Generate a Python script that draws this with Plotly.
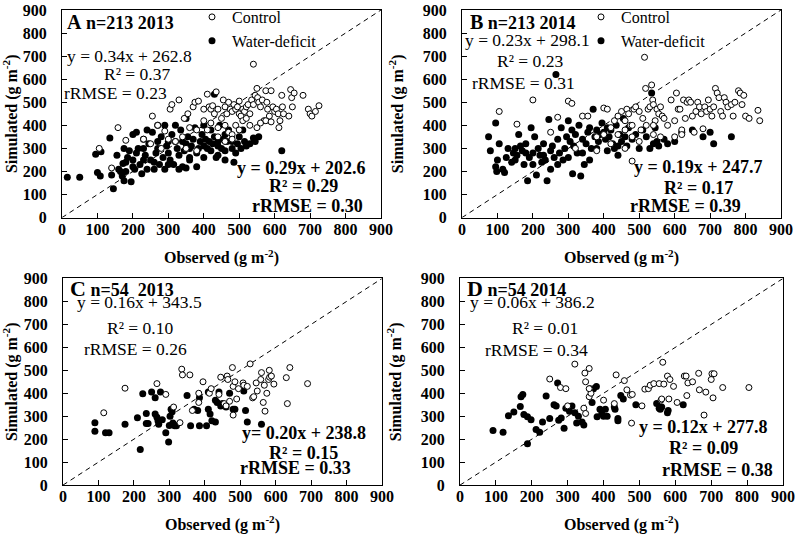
import plotly.graph_objects as go

# ---------------- data (observed, simulated) in g m-2 ----------------
A_CONTROL = [(105,300),(140,215),(158,390),(180,335),(255,440),(270,400),(290,375),(305,470),(310,490),
    (330,510),(345,430),(355,450),(370,480),(375,500),(385,505),(400,470),(410,535),(415,480),(420,470),
    (425,485),(430,450),(435,545),(440,470),(450,430),(455,510),(460,480),(465,450),(470,500),(475,470),
    (480,460),(485,490),(490,470),(495,480),(500,505),(500,450),(505,440),(510,470),(515,460),(520,480),
    (525,490),(530,450),(535,510),(540,665),(540,490),(545,530),(550,560),(552,520),(555,500),(560,480),
    (565,510),(570,420),(575,550),(578,500),(580,470),(585,440),(590,550),(595,480),(600,460),(605,470),
    (610,450),(612,390),(615,420),(620,530),(622,480),(625,450),(640,440),(645,555),(648,520),(650,480),
    (655,540),(680,530),(695,470),(700,450),(705,440),(715,460),(725,485),(360,390),(380,380),(400,420),
    (410,380),(420,410),(440,390),(460,400),(470,370),(480,360),(490,400),(500,380),(510,420),(520,430),
    (530,400),(550,390),(560,410),(575,420),(590,415),(300,340),(320,330),(340,350),(280,300),(250,320),
    (230,340),(350,300),(380,290),(440,350),(460,330),(480,340)]
A_DEFICIT = [(15,175),(50,175),(95,275),(100,195),(108,180),(110,285),(135,345),(140,185),(145,125),
    (155,270),(160,210),(165,200),(170,180),(172,235),(175,300),(175,160),(180,240),(185,260),(190,290),
    (195,155),(200,360),(200,250),(205,210),(210,280),(215,300),(220,230),(225,190),(230,340),(235,270),
    (240,210),(245,320),(250,250),(255,370),(260,210),(265,280),(270,300),(275,230),(280,350),(285,260),
    (290,210),(295,310),(300,280),(305,250),(310,360),(315,230),(320,330),(325,300),(330,270),(335,380),
    (340,220),(345,290),(350,320),(355,350),(360,260),(365,310),(370,340),(375,390),(380,280),(385,300),
    (390,330),(395,360),(400,310),(405,340),(410,300),(415,330),(420,380),(425,320),(430,535),(430,350),
    (435,260),(440,310),(445,400),(450,300),(455,340),(460,290),(465,330),(470,380),(480,300),(485,240),
    (490,280),(495,320),(500,350),(505,300),(510,380),(515,330),(520,310),(530,320),(540,345),(545,330),
    (555,350),(620,290),(270,400),(290,400),(320,400),(350,430),(210,370),(240,380),(180,200),(200,220),
    (230,250),(260,240),(300,230),(330,210),(350,215),(360,250),(380,220),(400,260),(440,270),(460,250),
    (230,300),(270,330),(300,330),(340,330),(360,300),(400,400),(420,290),(440,330),(460,360),(480,330)]

B_CONTROL = [(105,460),(155,405),(200,510),(250,370),(270,435),(300,505),(310,495),(320,300),(340,440),
    (355,440),(380,290),(400,475),(410,470),(420,390),(430,420),(440,440),(450,460),(460,420),(465,470),
    (470,450),(475,400),(480,245),(485,470),(490,480),(500,460),(505,380),(510,430),(515,695),(518,560),
    (520,400),(525,470),(530,480),(535,575),(538,510),(540,490),(545,420),(550,470),(555,450),(560,480),
    (565,440),(570,430),(580,400),(590,510),(600,420),(605,540),(610,470),(615,470),(620,380),(625,510),
    (630,430),(635,500),(640,510),(645,500),(650,440),(655,370),(660,460),(665,500),(670,480),(675,450),
    (680,385),(685,480),(690,460),(695,510),(700,470),(705,440),(710,480),(715,560),(720,540),(725,520),
    (730,460),(735,440),(740,520),(745,500),(750,480),(760,490),(765,440),(770,500),(780,550),(785,540),
    (790,490),(795,530),(800,440),(810,430),(835,465),(840,420),(440,360),(460,380),(480,350),(500,330),
    (540,360),(560,350),(460,300),(600,350),(620,360),(480,400),(540,400),(400,360),(380,350),(420,320)]
B_DEFICIT = [(75,350),(80,290),(95,410),(95,220),(98,200),(100,250),(105,320),(115,210),(120,195),
    (125,260),(130,300),(140,240),(145,280),(150,250),(155,270),(160,360),(165,310),(170,290),(175,230),
    (180,320),(185,160),(190,260),(195,390),(200,280),(205,350),(210,185),(215,300),(220,270),(225,240),
    (230,320),(235,250),(240,160),(245,425),(250,290),(255,310),(260,260),(265,620),(270,340),(275,280),
    (280,390),(285,250),(290,300),(295,350),(300,420),(305,330),(310,380),(312,190),(315,310),(320,360),
    (325,280),(330,400),(335,180),(340,340),(345,230),(350,320),(355,370),(360,390),(365,300),(370,470),
    (375,350),(380,380),(385,330),(390,360),(395,410),(400,370),(405,340),(410,390),(415,350),(420,380),
    (425,320),(430,300),(435,400),(440,270),(445,360),(450,330),(455,430),(460,350),(465,310),(470,390),
    (480,340),(490,360),(500,300),(510,380),(520,350),(530,300),(535,540),(540,320),(545,390),(550,330),
    (555,310),(570,340),(580,320),(600,330),(620,370),(680,350),(700,370),(710,320),(760,350),(650,380),
    (150,300),(200,230),(250,210),(270,230),(300,260),(340,280),(360,250),(380,300),(410,290),(440,310),
    (230,270),(180,280)]

C_CONTROL = [(115,315),(175,422),(265,442),(290,395),(312,340),(330,272),(335,505),(337,480),(358,480),
    (365,325),(383,400),(383,360),(395,450),(413,400),(418,420),(440,395),(445,470),(455,355),(463,475),
    (465,460),(470,365),(478,512),(480,430),(480,305),(485,450),(490,375),(495,420),(508,445),(510,435),
    (528,528),(535,380),(538,385),(545,445),(548,410),(558,460),(560,490),(565,360),(568,435),(570,322),
    (575,400),(580,460),(582,500),(583,470),(588,475),(595,440),(630,468),(633,355),(640,512),(690,442),
    (520,430),(460,345)]
C_DEFICIT = [(90,272),(90,235),(120,228),(130,228),(175,265),(210,293),(218,155),(225,398),(235,268),
    (235,312),(240,268),(250,405),(260,380),(260,310),(265,295),(268,280),(270,265),(275,405),(280,285),
    (290,228),(298,188),(300,260),(302,300),(305,330),(308,320),(310,270),(315,258),(320,258),(350,390),
    (360,258),(370,330),(380,325),(385,258),(385,380),(405,258),(410,405),(410,330),(415,310),(420,280),
    (430,275),(430,370),(435,360),(440,405),(445,345),(450,355),(460,340),(470,400),(480,330),(485,330),
    (510,410),(515,325),(520,275),(560,265)]

D_CONTROL = [(250,462),(280,425),(295,420),(300,345),(320,527),(345,335),(348,488),(350,450),(350,312),
    (360,508),(360,385),(362,420),(365,400),(400,370),(430,355),(435,480),(458,455),(465,415),(475,392),
    (480,395),(478,270),(507,345),(515,418),(525,420),(530,435),(540,442),(555,442),(560,370),(562,375),
    (565,535),(568,440),(578,475),(582,375),(585,460),(595,430),(605,360),(625,475),(630,475),(632,390),
    (635,445),(648,450),(665,487),(667,415),(680,305),(685,405),(700,460),(702,485),(705,380),(708,485),
    (732,425),(805,425),(360,420)]
D_DEFICIT = [(92,238),(120,230),(135,302),(150,318),(168,342),(170,385),(175,395),(178,308),(188,180),
    (188,298),(198,285),(212,242),(222,230),(230,275),(240,388),(250,290),(262,350),(268,345),(272,445),
    (275,282),(282,292),(290,248),(295,335),(305,322),(312,345),(320,315),(325,270),(330,300),(340,275),
    (345,262),(368,360),(372,420),(380,430),(382,298),(390,330),(395,310),(400,300),(405,330),(410,300),
    (430,340),(432,330),(440,280),(440,290),(448,390),(455,375),(490,350),(548,355),(555,335),(558,330),
    (562,340),(578,315),(580,325),(622,350)]

PANEL_TITLES = {"A": ("A", "n=213 2013"), "B": ("B", "n=213 2014"),
                "C": ("C", "n=54  2013"), "D": ("D", "n=54 2014")}
CONTROL_STATS = {"A": ("y = 0.34x + 262.8", "R² = 0.37", "rRMSE = 0.23"),
                 "B": ("y = 0.23x + 298.1", "R² = 0.23", "rRMSE = 0.31"),
                 "C": ("y = 0.16x + 343.5", "R² = 0.10", "rRMSE = 0.26"),
                 "D": ("y = 0.06x + 386.2", "R² = 0.01", "rRMSE = 0.34")}
DEFICIT_STATS = {"A": ("y = 0.29x + 202.6", "R² = 0.29", "rRMSE = 0.30"),
                 "B": ("y = 0.19x + 247.7", "R² = 0.17", "rRMSE = 0.39"),
                 "C": ("y= 0.20x + 238.8", "R² = 0.15", "rRMSE = 0.33"),
                 "D": ("y = 0.12x + 277.8", "R² = 0.09", "rRMSE = 0.38")}
TICKS = list(range(0, 901, 100))

# ---------------- figure ----------------
W, H = 795, 534
FONT = "Liberation Serif"

def fx(px):
    return px / W

def fy(py):
    return 1 - py / H

domains = {
    "A": dict(x=[fx(62), fx(381)], y=[fy(217), fy(9)]),
    "B": dict(x=[fx(462), fx(781)], y=[fy(217), fy(9)]),
    "C": dict(x=[fx(63), fx(382)], y=[fy(485), fy(278)]),
    "D": dict(x=[fx(460), fx(783)], y=[fy(485), fy(278)]),
}
data = {"A": (A_CONTROL, A_DEFICIT), "B": (B_CONTROL, B_DEFICIT),
        "C": (C_CONTROL, C_DEFICIT), "D": (D_CONTROL, D_DEFICIT)}

# annotation anchor positions in data units
title_pos = {"A": (8, 848), "B": (17, 850), "C": (14, 857), "D": (14, 857)}
ctrl_pos = {"A": [(8, 701), (113, 623), (0, 541)],          # left-anchored
            "B": [(3, 770), (93, 679), (23, 584)],
            "C": [(34, 796), (118, 683), (54, 591)],
            "D": [(22, 796), (139, 683), (64, 587)]}
def_pos = {"A": [(863, 216), (784, 138), (855, 52)],        # right-anchored
           "B": [(855, 221), (770, 130), (793, 52)],
           "C": [(860, 226), (781, 139), (818, 74)],
           "D": [(864, 252), (780, 161), (878, 65)]}

fig = go.Figure()
annotations = []
axis_font = dict(family=FONT, size=16, color="black", weight="bold")

for i, key in enumerate(["A", "B", "C", "D"]):
    suffix = "" if i == 0 else str(i + 1)
    xr, yr = "x" + suffix, "y" + suffix
    ctrl, wd = data[key]
    legend_name = {"A": "legend", "B": "legend2"}.get(key)
    show = legend_name is not None
    fig.add_trace(go.Scatter(x=[0, 900], y=[0, 900], mode="lines", xaxis=xr, yaxis=yr,
                             line=dict(color="black", width=1, dash="5px,4px"),
                             showlegend=False, hoverinfo="skip"))
    fig.add_trace(go.Scatter(x=[p[0] for p in wd], y=[p[1] for p in wd], mode="markers",
                             xaxis=xr, yaxis=yr, name="Water-deficit",
                             marker=dict(symbol="circle", size=7, color="black",
                                         line=dict(width=0)),
                             showlegend=show, legend=legend_name or "legend", legendrank=2))
    fig.add_trace(go.Scatter(x=[p[0] for p in ctrl], y=[p[1] for p in ctrl], mode="markers",
                             xaxis=xr, yaxis=yr, name="Control",
                             marker=dict(symbol="circle", size=6, color="white",
                                         line=dict(width=1, color="black")),
                             showlegend=show, legend=legend_name or "legend", legendrank=1))

    common = dict(range=[0, 900], tickvals=TICKS, ticks="inside", ticklen=5, tickwidth=1,
                  tickcolor="black", showline=True, linecolor="black", linewidth=1,
                  mirror=True, showgrid=False, zeroline=False, tickfont=axis_font,
                  fixedrange=True, automargin=False)
    fig.layout["xaxis" + suffix] = dict(common, domain=domains[key]["x"], anchor=yr,
                                        ticklabelstandoff=-3,
                                        title=dict(text="<b>Observed (g m<sup>-2</sup>)</b>",
                                                   font=dict(family=FONT, size=16, color="black"),
                                                   standoff=15))
    fig.layout["yaxis" + suffix] = dict(common, domain=domains[key]["y"], anchor=xr,
                                        ticklabelstandoff=11,
                                        title=dict(text="<b>Simulated (g m<sup>-2</sup>)</b>",
                                                   font=dict(family=FONT, size=16, color="black"),
                                                   standoff=15))

    big = 20 if key in ("A", "B") else 22
    letter, sub = PANEL_TITLES[key]
    tx, ty = title_pos[key]
    annotations.append(dict(xref=xr, yref=yr, x=tx, y=ty, xanchor="left", yanchor="middle",
                            showarrow=False,
                            text=f"<b><span style='font-size:{big}px'>{letter}</span> {sub}</b>",
                            font=dict(family=FONT, size=18, color="black")))
    for txt, (ax_, ay_) in zip(CONTROL_STATS[key], ctrl_pos[key]):
        annotations.append(dict(xref=xr, yref=yr, x=ax_, y=ay_, xanchor="left", yanchor="middle",
                                showarrow=False, text=txt,
                                font=dict(family=FONT, size=17.5, color="black")))
    for txt, (ax_, ay_) in zip(DEFICIT_STATS[key], def_pos[key]):
        annotations.append(dict(xref=xr, yref=yr, x=ax_, y=ay_, xanchor="right", yanchor="middle",
                                showarrow=False, text=f"<b>{txt}</b>",
                                font=dict(family=FONT, size=18, color="black")))

legend_common = dict(font=dict(family=FONT, size=16, color="black"), bgcolor="rgba(0,0,0,0)",
                     borderwidth=0, xanchor="left", yanchor="top", tracegroupgap=0,
                     itemsizing="trace")
fig.update_layout(
    template="none",
    width=W, height=H, margin=dict(l=0, r=0, t=0, b=0),
    paper_bgcolor="white", plot_bgcolor="white",
    annotations=annotations,
    legend=dict(legend_common, x=fx(192), y=fy(-1)),
    legend2=dict(legend_common, x=fx(581), y=fy(-1)),
    showlegend=True,
)

# remove the default 8px page margin so the figure sits at the window origin
fig.write_html("out.html", config={"displayModeBar": False},
               post_script="document.body.style.margin='0px';")
